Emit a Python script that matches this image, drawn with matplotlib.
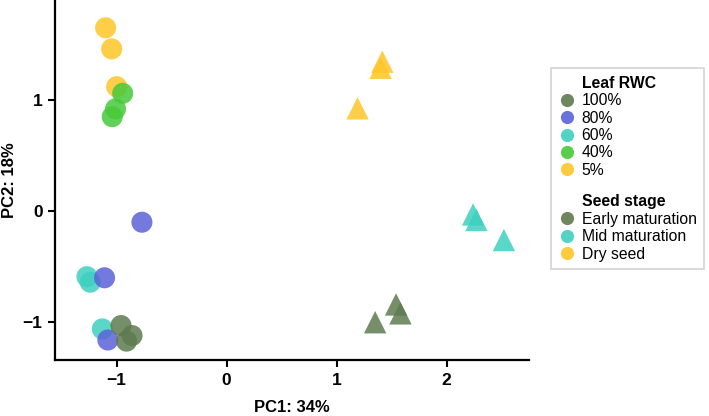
import matplotlib

matplotlib.use("Agg")
import matplotlib.pyplot as plt
from matplotlib.lines import Line2D

plt.rcParams.update({
    "font.family": ["Liberation Sans", "DejaVu Sans"],
    "font.size": 11,
})

COLORS = {
    "100%": "#5f7a50",
    "80%": "#5a62d8",
    "60%": "#3ed0c0",
    "40%": "#47c93a",
    "5%": "#ffc629",
}
STAGE_COLORS = {
    "Early maturation": "#5f7a50",
    "Mid maturation": "#3ed0c0",
    "Dry seed": "#ffc629",
}

# leaf samples (circles)
leaf_rwc = ["5%", "5%", "5%", "40%", "40%", "40%", "80%", "60%", "60%", "80%",
            "60%", "80%", "100%", "100%", "100%"]
leaf_pc1 = [-1.10, -1.045, -1.00, -0.945, -1.01, -1.04, -0.77, -1.27, -1.24, -1.11,
            -1.13, -1.08, -0.96, -0.86, -0.91]
leaf_pc2 = [1.65, 1.46, 1.12, 1.06, 0.92, 0.85, -0.10, -0.59, -0.64, -0.60,
            -1.06, -1.16, -1.03, -1.12, -1.17]

# seed samples (triangles)
seed_stage = ["Dry seed", "Dry seed", "Dry seed",
              "Mid maturation", "Mid maturation", "Mid maturation",
              "Early maturation", "Early maturation", "Early maturation"]
seed_pc1 = [1.415, 1.40, 1.19, 2.24, 2.27, 2.52, 1.54, 1.58, 1.35]
seed_pc2 = [1.345, 1.29, 0.925, -0.03, -0.08, -0.26, -0.84, -0.92, -1.00]

fig = plt.figure(figsize=(7.09, 4.16), dpi=100)
ax = fig.add_axes([0.0776, 0.1346, 0.668, 0.8654])

ax.scatter(leaf_pc1, leaf_pc2, c=[COLORS[r] for r in leaf_rwc], s=230,
           marker="o", alpha=0.85, linewidths=0)
ax.scatter(seed_pc1, seed_pc2, c=[STAGE_COLORS[s] for s in seed_stage], s=260,
           marker="^", alpha=0.85, linewidths=0)

ax.set_xlim(-1.56, 2.745)
ax.set_ylim(-1.34, 1.9)
ax.set_xticks([-1, 0, 1, 2])
ax.set_yticks([-1, 0, 1])
ax.set_xticklabels(["\u22121", "0", "1", "2"])
ax.set_yticklabels(["\u22121", "0", "1"])
for lab in ax.get_xticklabels() + ax.get_yticklabels():
    lab.set_fontweight("bold")
    lab.set_fontsize(12.5)
ax.tick_params(width=1.5, length=5, pad=4)
for side in ["top", "right"]:
    ax.spines[side].set_visible(False)
for side in ["left", "bottom"]:
    ax.spines[side].set_linewidth(1.6)
ax.set_xlabel("PC1: 34%", fontweight="bold", fontsize=12, labelpad=9)
ax.set_ylabel("PC2: 18%", fontweight="bold", fontsize=12, labelpad=4)

blank = Line2D([], [], linestyle="none", marker=None)
handles, labels = [blank], ["Leaf RWC"]
for k, c in COLORS.items():
    handles.append(Line2D([], [], linestyle="none", marker="o", markersize=9.5,
                          markerfacecolor=c, markeredgewidth=0, alpha=0.9))
    labels.append(k)
handles += [blank, blank]
labels += [" ", "Seed stage"]
for k, c in STAGE_COLORS.items():
    handles.append(Line2D([], [], linestyle="none", marker="o", markersize=9.5,
                          markerfacecolor=c, markeredgewidth=0, alpha=0.9))
    labels.append(k)

leg = fig.legend(handles, labels, loc="upper left", bbox_to_anchor=(0.766, 0.855),
                 frameon=True, fancybox=False, edgecolor="#c8c8c8",
                 handlelength=1.1, handletextpad=0.35, labelspacing=0.15,
                 borderpad=0.5, fontsize=11.3)
leg.get_frame().set_linewidth(1.2)
for t in leg.get_texts():
    if t.get_text() in ("Leaf RWC", "Seed stage"):
        t.set_fontweight("bold")
    if t.get_text() == " ":
        t.set_fontsize(4)

fig.savefig("out.png", dpi=100)
